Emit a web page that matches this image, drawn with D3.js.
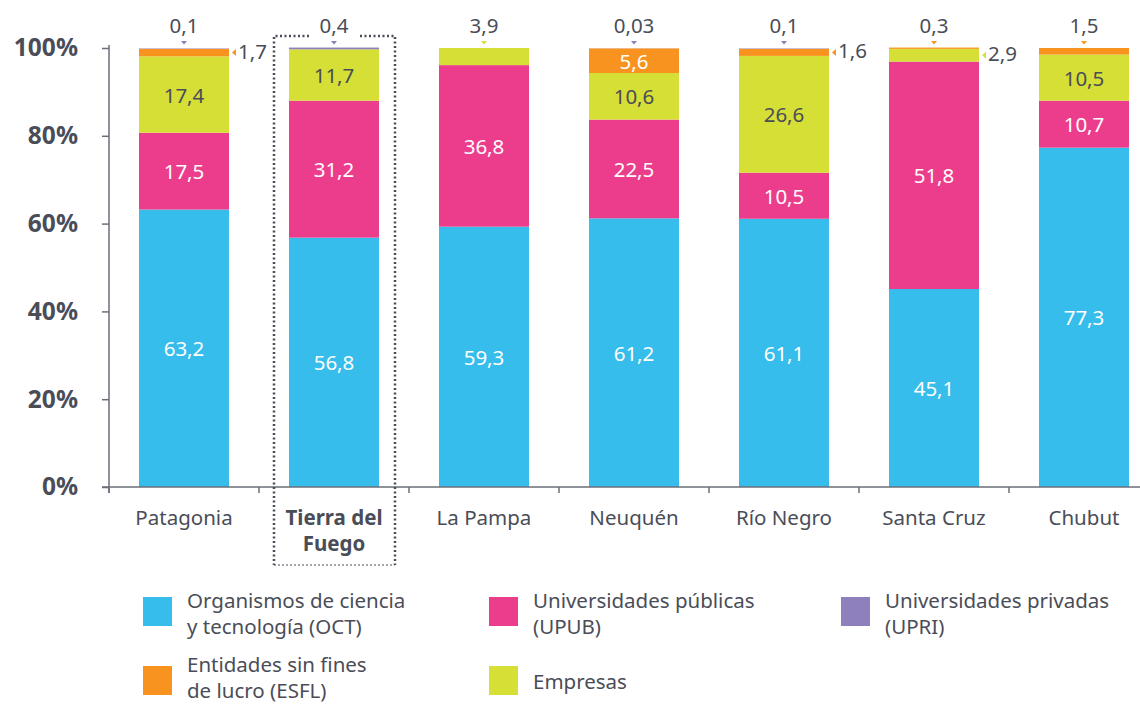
<!DOCTYPE html>
<html>
<head>
<meta charset="utf-8">
<script src="https://cdn.jsdelivr.net/npm/d3@7"></script>
<style>
  html, body { margin: 0; padding: 0; background: #fff; }
  svg { display: block; }
  text { font-family: "Noto Sans", "Open Sans", sans-serif; }
</style>
</head>
<body>
<svg id="chart" width="1140" height="706"></svg>
<script>
// ---------- DATA ----------
const categories = ["Patagonia", "Tierra del Fuego", "La Pampa", "Neuquén", "Río Negro", "Santa Cruz", "Chubut"];
const oct      = [63.2, 56.8, 59.3, 61.2, 61.1, 45.1, 77.3];
const upub     = [17.5, 31.2, 36.8, 22.5, 10.5, 51.8, 10.7];
const empresas = [17.4, 11.7, 3.9, 10.6, 26.6, 2.9, 10.5];
const esfl     = [1.7, 0, 0, 5.6, 1.6, 0.3, 1.5];
const upri     = [0.1, 0.4, 0, 0.03, 0.1, 0, 0];
const yTicks   = [0, 20, 40, 60, 80, 100];
// which series is annotated above the bar / beside the bar (small segments)
const topLabelSeries  = ["UPRI", "UPRI", "EMP", "UPRI", "UPRI", "ESFL", "ESFL"];
const sideLabelSeries = ["ESFL", null, null, null, "ESFL", "EMP", null];
const highlighted = "Tierra del Fuego";

const seriesKeys   = ["OCT", "UPUB", "EMP", "ESFL", "UPRI"];
const seriesValues = { OCT: oct, UPUB: upub, EMP: empresas, ESFL: esfl, UPRI: upri };
const seriesColors = { OCT: "#36bdec", UPUB: "#ec3d8c", UPRI: "#8e80bd", ESFL: "#f7931e", EMP: "#d6df35" };
const insideTextColor = { OCT: "#ffffff", UPUB: "#ffffff", ESFL: "#ffffff", EMP: "#4a4d57", UPRI: "#ffffff" };

const legendOrder  = ["OCT", "UPUB", "UPRI", "ESFL", "EMP"];
const legendLabels = {
  OCT:  ["Organismos de ciencia", "y tecnología (OCT)"],
  UPUB: ["Universidades públicas", "(UPUB)"],
  UPRI: ["Universidades privadas", "(UPRI)"],
  ESFL: ["Entidades sin fines", "de lucro (ESFL)"],
  EMP:  ["Empresas"]
};

// ---------- SETUP ----------
const textColor = "#4a4d57";
const axisColor = "#6b6e78";
const svg = d3.select("#chart");
const fmt = v => String(v).replace(".", ",");

const rows = categories.map((c, i) => {
  const r = { cat: c };
  seriesKeys.forEach(k => r[k] = seriesValues[k][i]);
  return r;
});
const stacked = d3.stack().keys(seriesKeys)(rows);

const x = d3.scaleBand().domain(categories).range([109, 1159]).paddingInner(0.4).paddingOuter(0.2);
const y = d3.scaleLinear().domain([0, 100]).range([487, 48]);

// ---------- BARS ----------
const layers = svg.append("g").selectAll("g").data(stacked).join("g")
  .attr("fill", d => seriesColors[d.key]);
layers.selectAll("rect").data(d => d.map(p => ({ p, key: d.key }))).join("rect")
  .attr("x", d => x(d.p.data.cat))
  .attr("width", x.bandwidth())
  .attr("y", d => y(d.p[1]))
  .attr("height", d => Math.max(0, y(d.p[0]) - y(d.p[1])));

// ---------- AXES ----------
const yAxis = d3.axisLeft(y).tickValues(yTicks).tickSize(7).tickPadding(24).tickFormat(d => d + "%");
const gy = svg.append("g").attr("transform", "translate(109,0)").call(yAxis);
gy.select(".domain").remove();
gy.selectAll(".tick line").attr("stroke", axisColor).attr("stroke-width", 1.5);
gy.selectAll(".tick text").attr("fill", textColor).attr("font-size", 24.5).attr("font-weight", 700)
  .attr("font-family", '"Noto Sans", sans-serif');
svg.append("line").attr("x1", 109).attr("x2", 109).attr("y1", y(100) - 3).attr("y2", y(0) + 6)
  .attr("stroke", axisColor).attr("stroke-width", 1.5);
svg.append("line").attr("x1", 102).attr("x2", 1140).attr("y1", y(0)).attr("y2", y(0))
  .attr("stroke", axisColor).attr("stroke-width", 1.5);

const halfGap = (x.step() - x.bandwidth()) / 2;
const boundaries = categories.map(c => x(c) - halfGap).concat([x(categories[categories.length - 1]) + x.bandwidth() + halfGap]);
svg.append("g").selectAll("line").data(boundaries).join("line")
  .attr("x1", d => d).attr("x2", d => d).attr("y1", y(0)).attr("y2", y(0) + 6)
  .attr("stroke", axisColor).attr("stroke-width", 1.5);

// category labels
const xl = svg.append("g").selectAll("text").data(categories).join("text")
  .attr("x", d => x(d) + x.bandwidth() / 2)
  .attr("y", 517)
  .attr("text-anchor", "middle")
  .attr("dominant-baseline", "central")
  .attr("fill", textColor)
  .attr("font-size", 20.5)
  .attr("font-weight", d => d === highlighted ? 700 : 400);
xl.each(function(d) {
  const t = d3.select(this);
  if (d === highlighted) {
    const parts = ["Tierra del", "Fuego"];
    parts.forEach((p, i) => t.append("tspan").attr("x", x(d) + x.bandwidth() / 2).attr("dy", i === 0 ? 0 : 26).text(p));
  } else t.text(d);
});

// ---------- VALUE LABELS ----------
const lab = svg.append("g");
stacked.forEach(layer => {
  layer.forEach((p, i) => {
    const key = layer.key;
    const v = seriesValues[key][i];
    if (!v) return;
    const cx = x(p.data.cat) + x.bandwidth() / 2;
    if (topLabelSeries[i] === key) {
      lab.append("text").attr("x", cx).attr("y", 25).attr("text-anchor", "middle")
        .attr("dominant-baseline", "central").attr("fill", textColor).attr("font-size", 20.5).text(fmt(v));
      lab.append("path").attr("d", `M${cx - 3},41 L${cx + 3},41 L${cx},44.5 Z`).attr("fill", seriesColors[key]);
    } else if (sideLabelSeries[i] === key) {
      const xr = x(p.data.cat) + x.bandwidth();
      const cy = (y(p[0]) + y(p[1])) / 2;
      lab.append("path").attr("d", `M${xr + 3},${cy} L${xr + 7},${cy - 3.5} L${xr + 7},${cy + 3.5} Z`).attr("fill", seriesColors[key]);
      lab.append("text").attr("x", xr + 9).attr("y", cy - 2).attr("dominant-baseline", "central")
        .attr("fill", textColor).attr("font-size", 20.5).text(fmt(v));
    } else {
      const cy = (y(p[0]) + y(p[1])) / 2;
      lab.append("text").attr("x", cx).attr("y", cy).attr("text-anchor", "middle")
        .attr("dominant-baseline", "central").attr("fill", insideTextColor[key]).attr("font-size", 20.5).text(fmt(v));
    }
  });
});

// ---------- HIGHLIGHT BOX ----------
const hx0 = x(highlighted) - halfGap + 15, hx1 = x(highlighted) + x.bandwidth() + halfGap - 14;
const hcx = x(highlighted) + x.bandwidth() / 2;
const boxTop = 36, boxBottom = 565;
const box = svg.append("g").attr("fill", "none").attr("stroke", "#4a4d57").attr("stroke-width", 2.5).attr("stroke-dasharray", "2 2.5");
box.append("path").attr("d", `M${hcx - 25},${boxTop} L${hx0},${boxTop} L${hx0},${boxBottom}`);
box.append("path").attr("d", `M${hcx + 26},${boxTop} L${hx1},${boxTop} L${hx1},${boxBottom}`);
box.append("path").attr("d", `M${hx0},${boxBottom} L${hx1},${boxBottom}`).attr("stroke-width", 1.2).attr("stroke-dasharray", "2 2");

// ---------- LEGEND ----------
const legendCols = [143, 489, 841];
const legendRows = [597, 666];
const lg = svg.append("g");
legendOrder.forEach((k, i) => {
  const row = Math.floor(i / 3);
  const lx = legendCols[i % 3], ly = legendRows[row];
  lg.append("rect").attr("x", lx).attr("y", ly).attr("width", 29).attr("height", 29).attr("fill", seriesColors[k]);
  const lines = legendLabels[k];
  const t = lg.append("text").attr("fill", textColor).attr("font-size", 20.5).attr("dominant-baseline", "central");
  if (lines.length === 1) {
    t.append("tspan").attr("x", lx + 44).attr("y", ly + 15).text(lines[0]);
  } else {
    const off = row === 0 ? 3 : -2;
    lines.forEach((ln, j) => t.append("tspan").attr("x", lx + 44).attr("y", ly + off + j * 26).text(ln));
  }
});
</script>
</body>
</html>
